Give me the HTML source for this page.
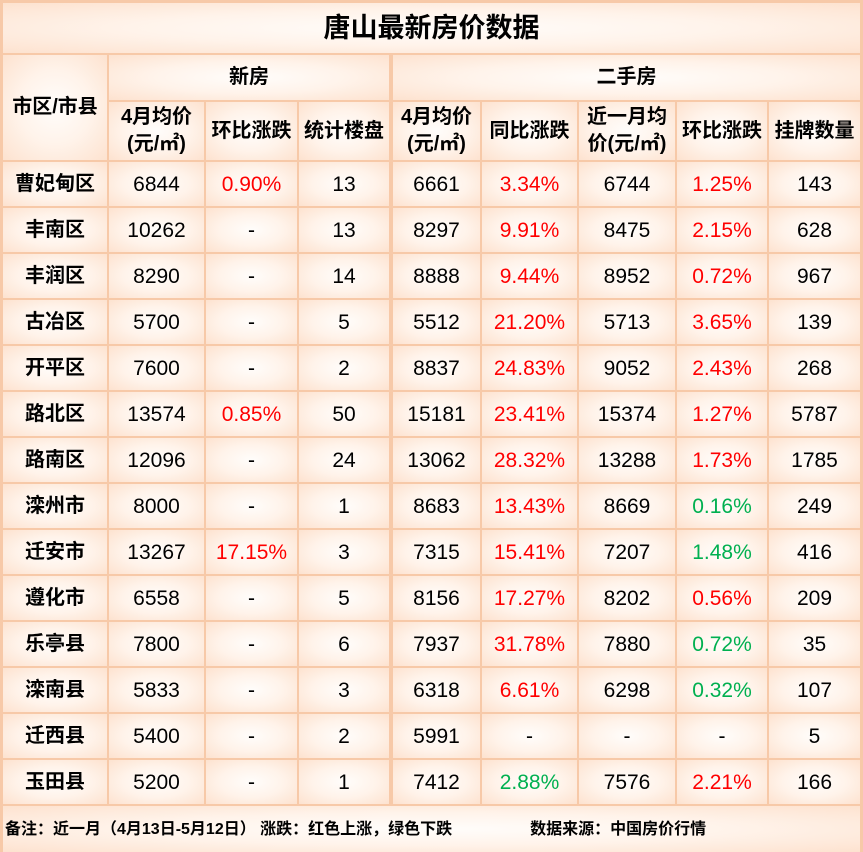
<!DOCTYPE html>
<html><head><meta charset="utf-8"><style>
body{margin:0;width:863px;height:852px;background:#f7c9a8;position:relative;overflow:hidden;font-family:"Liberation Sans","Noto Sans CJK SC",sans-serif;}
.c{position:absolute;display:flex;align-items:center;justify-content:center;text-align:center;background:radial-gradient(ellipse at center,#fffdfb 0%,#fff3ea 50%,#fde2cf 100%);font-size:21px;color:#000;line-height:27px}
.h{font-weight:bold;font-size:20px}
.r{color:#ff0000}.g{color:#00b050}
</style></head><body>
<div class="c h" style="left:3px;top:3px;width:857px;height:50px;font-size:27px">唐山最新房价数据</div>
<div class="c h" style="left:3px;top:55px;width:104px;height:105px">市区/市县</div>
<div class="c h" style="left:109px;top:55px;width:280px;height:45px">新房</div>
<div class="c h" style="left:393px;top:55px;width:467px;height:45px">二手房</div>
<div class="c h" style="left:109px;top:102px;width:95px;height:58px">4月均价<br>(元/㎡)</div>
<div class="c h" style="left:206px;top:102px;width:91px;height:58px">环比涨跌</div>
<div class="c h" style="left:299px;top:102px;width:90px;height:58px">统计楼盘</div>
<div class="c h" style="left:393px;top:102px;width:87px;height:58px">4月均价<br>(元/㎡)</div>
<div class="c h" style="left:482px;top:102px;width:95px;height:58px">同比涨跌</div>
<div class="c h" style="left:579px;top:102px;width:96px;height:58px">近一月均<br>价(元/㎡)</div>
<div class="c h" style="left:677px;top:102px;width:90px;height:58px">环比涨跌</div>
<div class="c h" style="left:769px;top:102px;width:91px;height:58px">挂牌数量</div>
<div id="rows"></div>
<div class="c" style="left:3px;top:806px;width:857px;height:46px;justify-content:flex-start;font-size:16px;font-weight:bold">
<span style="margin-left:2px">备注：近一月（4月13日-5月12日） 涨跌：红色上涨，绿色下跌</span><span style="margin-left:78px">数据来源：中国房价行情</span></div>
<script>
var d=[["曹妃甸区","6844","r0.90%","13","6661","r3.34%","6744","r1.25%","143"],
["丰南区","10262","-","13","8297","r9.91%","8475","r2.15%","628"],
["丰润区","8290","-","14","8888","r9.44%","8952","r0.72%","967"],
["古冶区","5700","-","5","5512","r21.20%","5713","r3.65%","139"],
["开平区","7600","-","2","8837","r24.83%","9052","r2.43%","268"],
["路北区","13574","r0.85%","50","15181","r23.41%","15374","r1.27%","5787"],
["路南区","12096","-","24","13062","r28.32%","13288","r1.73%","1785"],
["滦州市","8000","-","1","8683","r13.43%","8669","g0.16%","249"],
["迁安市","13267","r17.15%","3","7315","r15.41%","7207","g1.48%","416"],
["遵化市","6558","-","5","8156","r17.27%","8202","r0.56%","209"],
["乐亭县","7800","-","6","7937","r31.78%","7880","g0.72%","35"],
["滦南县","5833","-","3","6318","r6.61%","6298","g0.32%","107"],
["迁西县","5400","-","2","5991","-","-","-","5"],
["玉田县","5200","-","1","7412","g2.88%","7576","r2.21%","166"]];
var xs=[[3,104],[109,95],[206,91],[299,90],[393,87],[482,95],[579,96],[677,90],[769,91]];
var h="";
d.forEach(function(r,i){var t=162+46*i;r.forEach(function(v,j){var cl="c";if(j==0)cl+=" h";var s=v;if(v[0]=="r"){cl+=" r";s=v.slice(1)}else if(v[0]=="g"){cl+=" g";s=v.slice(1)}
h+='<div class="'+cl+'" style="left:'+xs[j][0]+'px;top:'+t+'px;width:'+xs[j][1]+'px;height:44px">'+s+'</div>';});});
document.getElementById("rows").innerHTML=h;
</script>
</body></html>
